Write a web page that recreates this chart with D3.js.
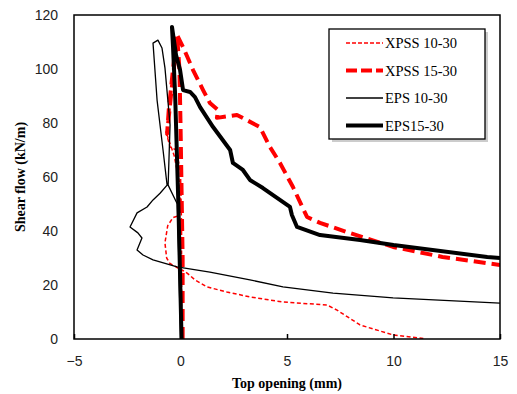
<!DOCTYPE html>
<html>
<head>
<meta charset="utf-8">
<script src="https://cdn.jsdelivr.net/npm/d3@7"></script>
<style>
  body { margin: 0; background: #fff; }
  .tick text { font-family: "Liberation Sans", Arial, sans-serif; font-size: 14px; fill: #222; }
  .axis-title { font-family: "Liberation Serif", "Times New Roman", serif; font-weight: bold; font-size: 14px; }
  .legend text { font-family: "Liberation Serif", "Times New Roman", serif; font-size: 14.5px; }
</style>
</head>
<body>
<svg id="chart"></svg>
<script>
// [top opening (mm), shear flow (kN/m)]
const xpss1030 = [
  [0.05, 0], [0.05, 20], [0.05, 42], [0, 62], [-0.2, 70], [-0.49, 71.1], [-0.68, 76.7],
  [-0.3, 68], [-0.05, 58], [0, 48], [-0.15, 45.5], [-0.35, 45], [-0.6, 42], [-0.73, 35.6],
  [-0.65, 30], [-0.5, 28], [-0.12, 26.3], [0.07, 25.6], [0.31, 24.4], [0.68, 21.9],
  [1.24, 19.3], [2.18, 17.4], [3.26, 15.6], [4.81, 13.7], [6.88, 12.6], [7.35, 10.7],
  [8.43, 5.2], [9.98, 1.5], [11.4, 0.2]
];
const xpss1530 = [
  [0.1, 0], [0.1, 30], [0.05, 55], [0, 80], [-0.05, 100], [-0.16, 112.6], [-0.35, 100],
  [-0.55, 85], [-0.63, 76], [-0.45, 90], [-0.2, 108], [-0.16, 112.6], [0.12, 108.1],
  [0.59, 99.6], [1.06, 92.2], [1.38, 87.4], [1.76, 84.8], [1.71, 81.9], [2.65, 83],
  [3.73, 78.5], [4.2, 71.1], [4.67, 65.2], [5.28, 56.3], [5.94, 45.2], [6.55, 43],
  [7.82, 39.6], [9.98, 34.1], [12.3, 30.4], [15, 27.4]
];
const eps1030 = [
  [0, 0], [-0.08, 30], [-0.15, 50], [-0.58, 57], [-0.49, 79.3], [-0.73, 100.4],
  [-0.87, 107.8], [-1.06, 110.7], [-1.29, 109.6], [-1.1, 88.5], [-0.82, 70], [-0.63, 57],
  [-0.96, 54], [-1.29, 51.5], [-1.57, 48.9], [-2.04, 46.7], [-2.37, 41.5], [-2, 39.3],
  [-1.81, 37.4], [-2.04, 33], [-1.76, 31.1], [-1.29, 29.3], [-0.16, 26.7], [1.38, 24.8],
  [3.26, 21.9], [4.81, 19.3], [7.16, 17], [9.98, 15.2], [15, 13.3]
];
const eps1530 = [
  [0.05, 0], [-0.1, 50], [-0.25, 90], [-0.35, 108], [-0.4, 115.6], [-0.21, 105.2],
  [-0.02, 99.6], [0.12, 92.2], [0.45, 91.5], [0.68, 89.6], [0.92, 85.9], [1.53, 78.5],
  [2.33, 70], [2.46, 65.2], [2.93, 62.6], [3.26, 58.9], [3.87, 55.9], [5.14, 48.9],
  [5.23, 45.9], [5.47, 41.5], [6.55, 38.5], [8.43, 36.7], [10, 34.8], [14.4, 30.4], [15, 30]
];

const seriesNames = ["XPSS 10-30", "XPSS 15-30", "EPS 10-30", "EPS15-30"];
const xTicks = [-5, 0, 5, 10, 15];
const yTicks = [0, 20, 40, 60, 80, 100, 120];

const series = [
  {name: seriesNames[0], data: xpss1030, color: "#ff0000", width: 1.5, dash: "4,2.5"},
  {name: seriesNames[1], data: xpss1530, color: "#ff0000", width: 4, dash: "12,6"},
  {name: seriesNames[2], data: eps1030, color: "#000", width: 1.3, dash: null},
  {name: seriesNames[3], data: eps1530, color: "#000", width: 4, dash: null}
];

const width = 517, height = 394;
const margin = {top: 15, right: 17, bottom: 55, left: 74};
const w = width - margin.left - margin.right;
const h = height - margin.top - margin.bottom;

const svg = d3.select("#chart").attr("width", width).attr("height", height);
const g = svg.append("g").attr("transform", `translate(${margin.left},${margin.top})`);

const x = d3.scaleLinear().domain([-5, 15]).range([0, w]);
const y = d3.scaleLinear().domain([0, 120]).range([h, 0]);

// clip lines to plot area
svg.append("defs").append("clipPath").attr("id", "clip")
  .append("rect").attr("width", w).attr("height", h);

const line = d3.line().x(d => x(d[0])).y(d => y(d[1]));

g.append("g").attr("clip-path", "url(#clip)")
  .selectAll("path")
  .data(series)
  .join("path")
  .attr("d", d => line(d.data))
  .attr("fill", "none")
  .attr("stroke", d => d.color)
  .attr("stroke-width", d => d.width)
  .attr("stroke-dasharray", d => d.dash)
  .attr("stroke-linejoin", "round");

// axes
const xAxis = d3.axisBottom(x).tickValues(xTicks).tickSizeInner(-5).tickSizeOuter(0).tickPadding(17);
const yAxis = d3.axisLeft(y).tickValues(yTicks).tickSize(0).tickPadding(16);

const xg = g.append("g").attr("transform", `translate(0,${h})`).call(xAxis);
xg.select(".domain").remove();
xg.selectAll(".tick line").attr("stroke", "#000").attr("stroke-width", 1.5);

const yg = g.append("g").call(yAxis);
yg.select(".domain").remove();

// frame
g.append("rect").attr("width", w).attr("height", h)
  .attr("fill", "none").attr("stroke", "#000").attr("stroke-width", 1.5);

// axis titles
svg.append("text").attr("class", "axis-title")
  .attr("x", 287).attr("y", 388).attr("text-anchor", "middle")
  .text("Top opening (mm)");
svg.append("text").attr("class", "axis-title")
  .attr("transform", "translate(25,177) rotate(-90)").attr("text-anchor", "middle")
  .text("Shear flow (kN/m)");

// legend
const leg = svg.append("g").attr("class", "legend").attr("transform", "translate(329,29)");
leg.append("rect").attr("x", 3).attr("y", 3).attr("width", 156).attr("height", 110)
  .attr("fill", "#999").attr("opacity", 0.5);
leg.append("rect").attr("width", 156).attr("height", 110)
  .attr("fill", "#fff").attr("stroke", "#000").attr("stroke-width", 1.3);

const items = leg.selectAll(".item").data(series).join("g")
  .attr("class", "item")
  .attr("transform", (d, i) => `translate(0,${14 + i * 27.5})`);
items.append("line").attr("x1", 17).attr("x2", 54)
  .attr("stroke", d => d.color).attr("stroke-width", d => d.width)
  .attr("stroke-dasharray", d => d.dash ? (d.width > 2 ? "11,4" : "4,2") : null);
items.append("text").attr("x", 56).attr("dy", "0.35em").text(d => d.name);
</script>
</body>
</html>
